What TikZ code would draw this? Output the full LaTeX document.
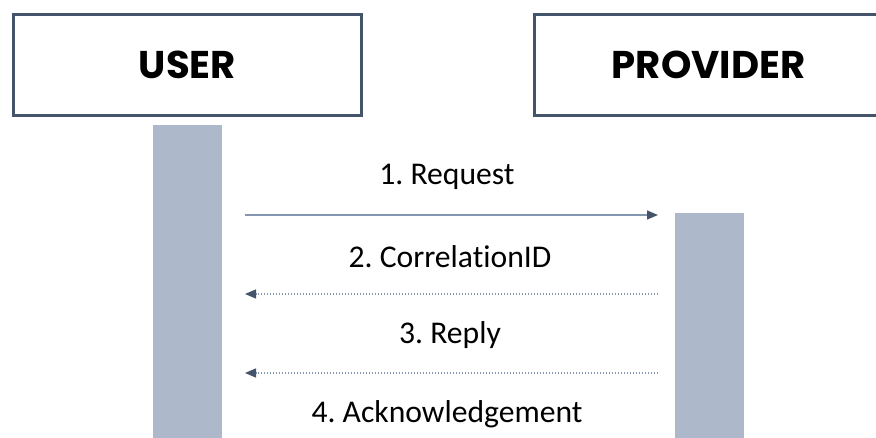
\documentclass[tikz,border=0pt]{standalone}
\usepackage{fontspec}
\setmainfont{Carlito}[Ligatures=NoCommon]
\newfontfamily\headfont{Poppins}
\usetikzlibrary{arrows.meta,positioning}
\definecolor{slate}{HTML}{44546A}
\definecolor{barblue}{HTML}{ADB9CA}
\definecolor{msgline}{HTML}{8496B0}
\frenchspacing

\begin{document}
\begin{tikzpicture}[x=0.02cm,y=-0.02cm,
    role/.style={draw=slate, line width=0.06cm, fill=white, minimum width=6.96cm, minimum height=2.02cm, font=\headfont\bfseries\fontsize{22}{26}\selectfont},
    lifebar/.style={fill=barblue, draw=none, minimum width=1.38cm, inner sep=0pt, anchor=north},
    msg/.style={font=\fontsize{18}{21}\selectfont},
    call/.style={draw=msgline, line width=0.03cm, -{Triangle[length=0.22cm,width=0.18cm,color=slate]}},
    answer/.style={call, dash pattern=on 0.03cm off 0.03cm}]
    \clip (0,0) rectangle (876,438);
    % participants
    \node[role] (user) at (187.5,65) {USER};
    \node[role] (provider) at (708.5,65) {PROVIDER};
    % activation bars
    \node[lifebar, minimum height=6.6cm] (userbar) at (187.5,125) {};
    \node[lifebar, minimum height=4.8cm] (provbar) at (709.5,213) {};
    % messages
    \coordinate (reqa) at (245,215);
    \coordinate (reqb) at (658,215);
    \coordinate (cida) at (658,294);
    \coordinate (cidb) at (245,294);
    \coordinate (repa) at (658,373);
    \coordinate (repb) at (245,373);
    \node[msg] (reqlbl) at (447,177) {1. Request};
    \node[msg] (cidlbl) at (450,257) {2. CorrelationID};
    \node[msg] (replbl) at (450,335) {3. Reply};
    \node[msg] (acklbl) at (447,414) {4. Acknowledgement};
    \draw[call] (reqa) -- (reqb);
    \draw[answer] (cida) -- (cidb);
    \draw[answer] (repa) -- (repb);
\end{tikzpicture}
\end{document}
